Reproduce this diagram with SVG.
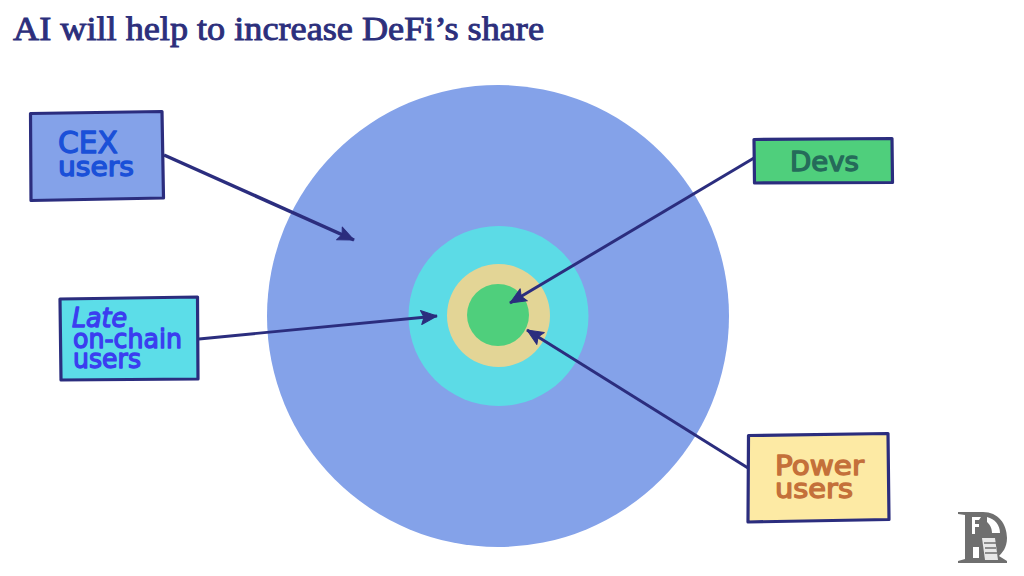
<svg xmlns="http://www.w3.org/2000/svg" width="1024" height="576" viewBox="0 0 1024 576">
<style>
.title{font-family:"Liberation Serif",serif;font-size:33px;font-weight:400;fill:#2c2f7c;stroke:#2c2f7c;stroke-width:.9px}
.box{stroke:#2b2d7e;stroke-width:3.200px;stroke-linejoin:round}
.lab{font-family:"DejaVu Sans",sans-serif;font-weight:400;font-size:26px;stroke-width:1.300px;stroke-linejoin:round}
.cn{stroke:#2b2d7e;fill:none}
</style>
<defs>
<marker id="ah" markerUnits="userSpaceOnUse" markerWidth="20" markerHeight="18" refX="17" refY="9" orient="auto"><path d="M1 2 L17 9 L1 16 L4 9 Z" fill="#2b2d7e" stroke="#2b2d7e" stroke-width="1" stroke-linejoin="round"/></marker>
</defs>
<rect width="1024" height="576" fill="#fff"/>
<text class="title" x="13" y="40" textLength="531" lengthAdjust="spacingAndGlyphs">AI will help to increase DeFi’s share</text>
<g id="rings">
<circle cx="498" cy="316" r="231" fill="#84a2e9"/>
<circle cx="498.500" cy="316" r="90" fill="#5cdbe6"/>
<circle cx="498.500" cy="315.500" r="51.500" fill="#e3d596"/>
<circle cx="498" cy="315" r="31" fill="#4fcf7c"/>
</g>
<g id="connectors">
<path class="cn" stroke-width="3.500" d="M164 155 L354 240" marker-end="url(#ah)"/>
<path class="cn" stroke-width="2.800" d="M199 339 L437 316" marker-end="url(#ah)"/>
<path class="cn" stroke-width="3" d="M754 158 L510 303" marker-end="url(#ah)"/>
<path class="cn" stroke-width="3" d="M748 468 L527 330" marker-end="url(#ah)"/>
</g>
<g id="cex-users">
<path class="box" d="M30.500 113.500 L162 111.500 L163.500 198 L31 200.500 Z" fill="#84a2e9"/>
<text class="lab" fill="#1a50d8" stroke="#1a50d8"><tspan x="58" y="153" font-size="30" textLength="60" lengthAdjust="spacingAndGlyphs">CEX</tspan><tspan x="58" y="176" textLength="76" lengthAdjust="spacingAndGlyphs">users</tspan></text>
</g>
<g id="late-on-chain-users">
<path class="box" d="M60 299 L197.500 297 L198 379 L61 380 Z" fill="#5cdde8"/>
<text class="lab" fill="#3b3df0" stroke="#3b3df0" font-size="24"><tspan x="72" y="327" font-style="italic" textLength="55" lengthAdjust="spacingAndGlyphs">Late</tspan><tspan x="73" y="348" textLength="109" lengthAdjust="spacingAndGlyphs">on-chain</tspan><tspan x="73" y="368" textLength="68" lengthAdjust="spacingAndGlyphs">users</tspan></text>
</g>
<g id="devs">
<path class="box" d="M754 139.500 L892 138.500 L892.500 182.500 L754.500 183 Z" fill="#4fcf7c"/>
<text class="lab" x="790" y="171" fill="#256b5a" stroke="#256b5a" textLength="69" lengthAdjust="spacingAndGlyphs">Devs</text>
</g>
<g id="power-users">
<path class="box" d="M748.500 435.500 L888 433.500 L889 519.500 L748 522 Z" fill="#fdeaa4"/>
<text class="lab" fill="#c4703a" stroke="#c4703a"><tspan x="775" y="475" textLength="89" lengthAdjust="spacingAndGlyphs">Power</tspan><tspan x="775" y="498" textLength="78" lengthAdjust="spacingAndGlyphs">users</tspan></text>
</g>
<g id="logo">
<path d="M958 512 H983 C998 512 1007 524 1007 538 C1007 548 1002 553 999 556 L1007 561 V563 H958 V561 L965 559 V515 L958 514 Z" fill="#6f6f6f"/>
<path d="M972 517 H981 L979 520 H975 V524 H979 V527 H975 V534 H972 Z M987 517 C995 519 1000 525 1000 533 L992 533 C992 527 989 524 987 522 Z" fill="#fff"/>
<path d="M973 547 H979 V558 H973 Z" fill="#fff"/>
<path d="M982 538 H995 L998 560 H985 Z" fill="#e8e8e8"/>
<path d="M984 543 H996 M985 548 H996 M985 553 H997" stroke="#6f6f6f" stroke-width="1.500"/>
</g>
</svg>
